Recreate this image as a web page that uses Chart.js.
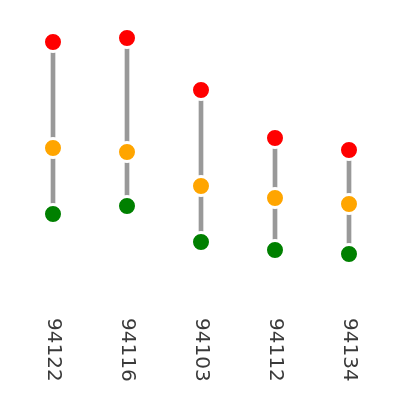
<!DOCTYPE html>
<html>
<head>
<meta charset="utf-8">
<script src="https://cdn.jsdelivr.net/npm/chart.js@4"></script>
<style>
html,body{margin:0;padding:0;background:#fff;}
#wrap{width:400px;height:400px;}
</style>
</head>
<body>
<div id="wrap"><canvas id="c" width="400" height="400"></canvas></div>
<script>
const categories = ["94122", "94116", "94103", "94112", "94134"];
const highValues = [258, 262, 210, 162, 150];
const midValues  = [152, 148, 114, 102, 96];
const lowValues  = [86, 94, 58, 50, 46];

const rotatedLabels = {
  id: 'rotatedLabels',
  afterDraw(chart) {
    const ctx = chart.ctx;
    const xs = chart.scales.x;
    ctx.save();
    ctx.font = '20px "DejaVu Sans", sans-serif';
    ctx.fillStyle = '#3a3a3a';
    ctx.textAlign = 'left';
    ctx.textBaseline = 'middle';
    categories.forEach((lab, i) => {
      const x = xs.getPixelForValue(i);
      ctx.save();
      ctx.translate(x, 318);
      ctx.rotate(Math.PI / 2);
      ctx.fillText(lab, 0, 0);
      ctx.restore();
    });
    ctx.restore();
  }
};

const pointStyle = (color) => ({
  type: 'line',
  showLine: false,
  pointRadius: 9.5,
  pointHoverRadius: 9.5,
  pointBackgroundColor: color,
  pointBorderColor: '#fff',
  pointBorderWidth: 3,
  borderColor: color,
  order: 1
});

new Chart(document.getElementById('c'), {
  type: 'bar',
  data: {
    labels: categories,
    datasets: [
      Object.assign({ data: highValues }, pointStyle('#ff0000')),
      Object.assign({ data: midValues }, pointStyle('#ffa500')),
      Object.assign({ data: lowValues }, pointStyle('#008000')),
      {
        type: 'bar',
        data: categories.map((c, i) => [lowValues[i], highValues[i]]),
        backgroundColor: '#999999',
        barThickness: 4,
        borderSkipped: false,
        order: 2
      }
    ]
  },
  options: {
    responsive: false,
    animation: false,
    layout: { autoPadding: false, padding: { left: 16, right: 14, top: 0, bottom: 100 } },
    plugins: { legend: { display: false }, tooltip: { enabled: false } },
    scales: {
      x: { display: false, offset: true },
      y: { display: false, min: 0, max: 300 }
    }
  },
  plugins: [rotatedLabels]
});
</script>
</body>
</html>
